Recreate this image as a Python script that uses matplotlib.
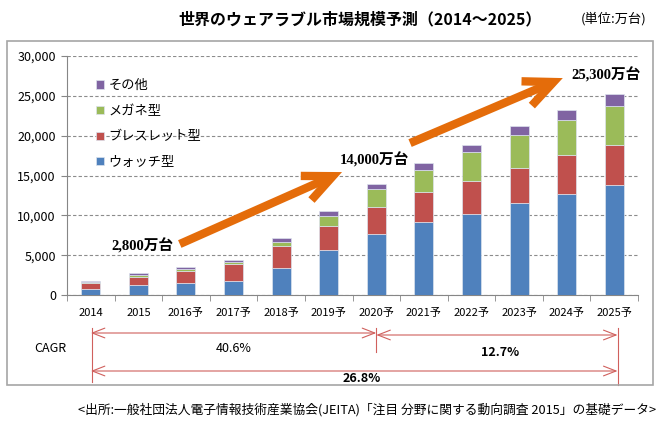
import numpy as np
import matplotlib.pyplot as plt
from matplotlib.patches import Rectangle
from matplotlib.ticker import StrMethodFormatter, FixedLocator

plt.rcParams['font.family'] = ['Noto Sans CJK JP', 'DejaVu Sans']

# data (万台)
years = ['2014', '2015', '2016予', '2017予', '2018予', '2019予',
         '2020予', '2021予', '2022予', '2023予', '2024予', '2025予']
watch = [800, 1200, 1450, 1800, 3450, 5650, 7650, 9150, 10200, 11500, 12650, 13750]
bracelet = [700, 1100, 1600, 2050, 2650, 2950, 3350, 3750, 4150, 4450, 4900, 5100]
glasses = [150, 250, 250, 300, 600, 1350, 2250, 2800, 3600, 4100, 4400, 4850]
other = [100, 150, 250, 300, 500, 600, 700, 900, 850, 1150, 1250, 1550]
series_names = ['ウォッチ型', 'ブレスレット型', 'メガネ型', 'その他']
total_labels = ['2,800万台', '14,000万台', '25,300万台']
cagr_labels = ['40.6%', '12.7%', '26.8%']

colors = ['#4F81BD', '#C0504D', '#9BBB59', '#8064A2']
orange = '#E46C0A'
cagr_red = '#D0605D'

W, H = 666, 424
fig = plt.figure(figsize=(W / 100, H / 100), dpi=100)

def fx(px):
    return px / W

def fy(py):
    return 1 - py / H

# gray outer frame
fig.patches.append(Rectangle((fx(7), fy(385)), fx(653) - fx(7), (385 - 41) / H,
                             transform=fig.transFigure, fill=False,
                             edgecolor='#A6A6A6', lw=1.2))

ax = fig.add_axes([fx(67), fy(295), fx(638) - fx(67), (295 - 56) / H])

def ay(py):
    # pixel row -> axes fraction
    return (295 - py) / 239

x = np.arange(len(years))
bottom = np.zeros(len(years))
bars = []
for vals, c, name in zip([watch, bracelet, glasses, other], colors, series_names):
    b = ax.bar(x, vals, 0.4, bottom=bottom, color=c, label=name,
               edgecolor='#DCE3EE', lw=0.5, zorder=3)
    bars.append(b)
    bottom += np.array(vals)

ax.set_xlim(-0.5, len(years) - 0.5)
ax.set_ylim(0, 30000)
ax.set_yticks(np.arange(0, 30001, 5000))
ax.yaxis.set_major_formatter(StrMethodFormatter('{x:,.0f}'))
ax.yaxis.grid(True, ls=(0, (3, 2)), color='#8C8C8C', lw=0.8, zorder=0)
ax.set_xticks(x)
ax.set_xticklabels(years)
ax.xaxis.set_minor_locator(FixedLocator(np.arange(-0.5, len(years), 1)))
ax.tick_params(axis='x', which='major', length=0, pad=9, labelsize=8)
ax.tick_params(axis='x', which='minor', length=4, color='#868686')
ax.tick_params(axis='y', length=4, color='#868686', labelsize=9, pad=4)
for s in ['top', 'right']:
    ax.spines[s].set_visible(False)
for s in ['left', 'bottom']:
    ax.spines[s].set_color('#868686')

handles = bars[::-1]
ax.legend(handles, series_names[::-1], loc='upper left',
          bbox_to_anchor=(0.04, 0.93), frameon=False, fontsize=9.5,
          handlelength=0.6, handleheight=0.6, handletextpad=0.3,
          labelspacing=0.95, borderpad=0)

# orange growth arrows
for start, tip in [((1.87, 6400), (5.28, 15430)), ((6.71, 19070), (9.92, 27230))]:
    ax.annotate('', xy=tip, xytext=start,
                arrowprops=dict(arrowstyle='->,head_length=2.1,head_width=0.95',
                                lw=6, color=orange, mutation_scale=10,
                                shrinkA=0, shrinkB=0, capstyle='butt',
                                joinstyle='miter'), zorder=5)

serif = ['Liberation Serif', 'Noto Sans CJK JP']
for txt, pos in zip(total_labels, [(1.08, 6150), (5.95, 16940), (10.83, 27600)]):
    ax.text(pos[0], pos[1], txt, ha='center', va='center', fontsize=10.5,
            fontweight='bold', family=serif, zorder=6)

# CAGR spans under the axis
tr = ax.get_xaxis_transform()
for x0, x1, py in [(0, 6, 333), (6, 11.07, 335), (0, 11.07, 371)]:
    ax.annotate('', xy=(x1, ay(py)), xytext=(x0, ay(py)), xycoords=tr, textcoords=tr,
                arrowprops=dict(arrowstyle='<->,head_length=0.9,head_width=0.35',
                                lw=0.8, color=cagr_red, shrinkA=0, shrinkB=0),
                annotation_clip=False)
for xv, p0, p1 in [(0.03, 328, 382), (6, 328, 352), (11.07, 328, 385)]:
    ax.plot([xv, xv], [ay(p0), ay(p1)], transform=tr, color=cagr_red, lw=0.8,
            clip_on=False)

ax.text(3, ay(349), cagr_labels[0], transform=tr, ha='center', va='center', fontsize=9)
ax.text(8.6, ay(352), cagr_labels[1], transform=tr, ha='center', va='center',
        fontsize=9, fontweight='bold')
ax.text(5.7, ay(378), cagr_labels[2], transform=tr, ha='center', va='center',
        fontsize=9, fontweight='bold')
fig.text(fx(50), fy(349), 'CAGR', ha='center', va='center', fontsize=9)

fig.text(fx(360), fy(19), '世界のウェアラブル市場規模予測（2014～2025）',
         ha='center', va='center', fontsize=11.5, fontweight='bold')
fig.text(fx(614), fy(19), '(単位:万台)', ha='center', va='center', fontsize=9.5)
fig.text(fx(656), fy(410),
         '<出所:一般社団法人電子情報技術産業協会(JEITA)「注目 分野に関する動向調査 2015」の基礎データ>',
         ha='right', va='center', fontsize=9.2)

fig.savefig('out.png', dpi=100)
